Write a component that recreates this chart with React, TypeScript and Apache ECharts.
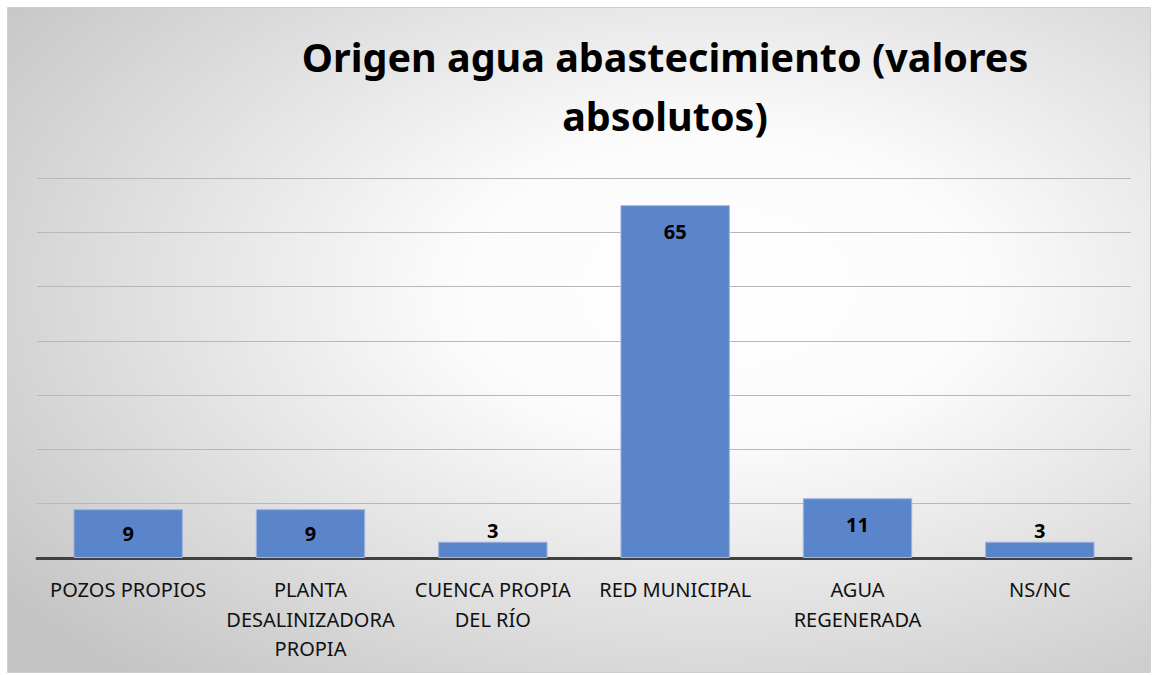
import React, { useEffect, useRef } from "react";
import * as echarts from "echarts";

const titleLines = ["Origen agua abastecimiento (valores", "absolutos)"];
const categories = [
  "POZOS PROPIOS",
  "PLANTA\nDESALINIZADORA\nPROPIA",
  "CUENCA PROPIA\nDEL RÍO",
  "RED MUNICIPAL",
  "AGUA\nREGENERADA",
  "NS/NC",
];
const values = [9, 9, 3, 65, 11, 3];
const yMax = 70;
const yInterval = 10;

const FONT = "'Noto Sans', 'Open Sans', sans-serif";

export default function App() {
  const ref = useRef<HTMLDivElement>(null);
  useEffect(() => {
    if (!ref.current) return;
    const chart = echarts.init(ref.current, undefined, { renderer: "svg" });
    const labelFor = (v: number) => {
      const base = { show: true, color: "#000", fontWeight: "bold" as const, fontSize: 20, fontFamily: FONT };
      if (v >= 10) return { ...base, position: "insideTop" as const, distance: 16 };
      if (v >= 5) return { ...base, position: "inside" as const };
      return { ...base, position: "top" as const, distance: 1 };
    };
    chart.setOption({
      animation: false,
      graphic: [
        {
          type: "rect",
          z: -10,
          silent: true,
          shape: { x: 7.5, y: 7.5, width: 1143, height: 665 },
          style: {
            fill: new echarts.graphic.RadialGradient(0.62, 0.42, 0.78, [
              { offset: 0, color: "#ffffff" },
              { offset: 0.3, color: "#fbfbfb" },
              { offset: 1, color: "#c4c4c4" },
            ]),
            stroke: "#d0d0d0",
            lineWidth: 1,
          },
        },
        {
          type: "text",
          z: 10,
          x: 665,
          y: 27,
          style: {
            text: titleLines.join("\n"),
            align: "center",
            verticalAlign: "top",
            font: `bold 39.5px ${FONT}`,
            lineHeight: 59,
            fill: "#000",
          },
        } as any,
      ],
      grid: { left: 37, right: 24, top: 178, bottom: 117, containLabel: false },
      xAxis: {
        type: "category",
        data: categories,
        axisLine: { show: true, lineStyle: { color: "#404040", width: 3 } },
        axisTick: { show: false },
        axisLabel: {
          interval: 0,
          color: "#111",
          fontSize: 20,
          fontFamily: FONT,
          lineHeight: 29.5,
          margin: 17,
        },
      },
      yAxis: {
        type: "value",
        min: 0,
        max: yMax,
        interval: yInterval,
        axisLabel: { show: false },
        axisLine: { show: false },
        axisTick: { show: false },
        splitLine: { show: true, lineStyle: { color: "#b8b8b8", width: 1 } },
      },
      series: [
        {
          type: "bar",
          barWidth: "60%",
          data: values.map((v) => ({ value: v, label: labelFor(v) })),
          itemStyle: { color: "#5b85cb", borderColor: "#9db4df", borderWidth: 1 },
        },
      ],
    });
    return () => chart.dispose();
  }, []);
  return (
    <div
      ref={ref}
      style={{ position: "absolute", left: 0, top: 0, width: 1155, height: 675, background: "#fff" }}
    />
  );
}
